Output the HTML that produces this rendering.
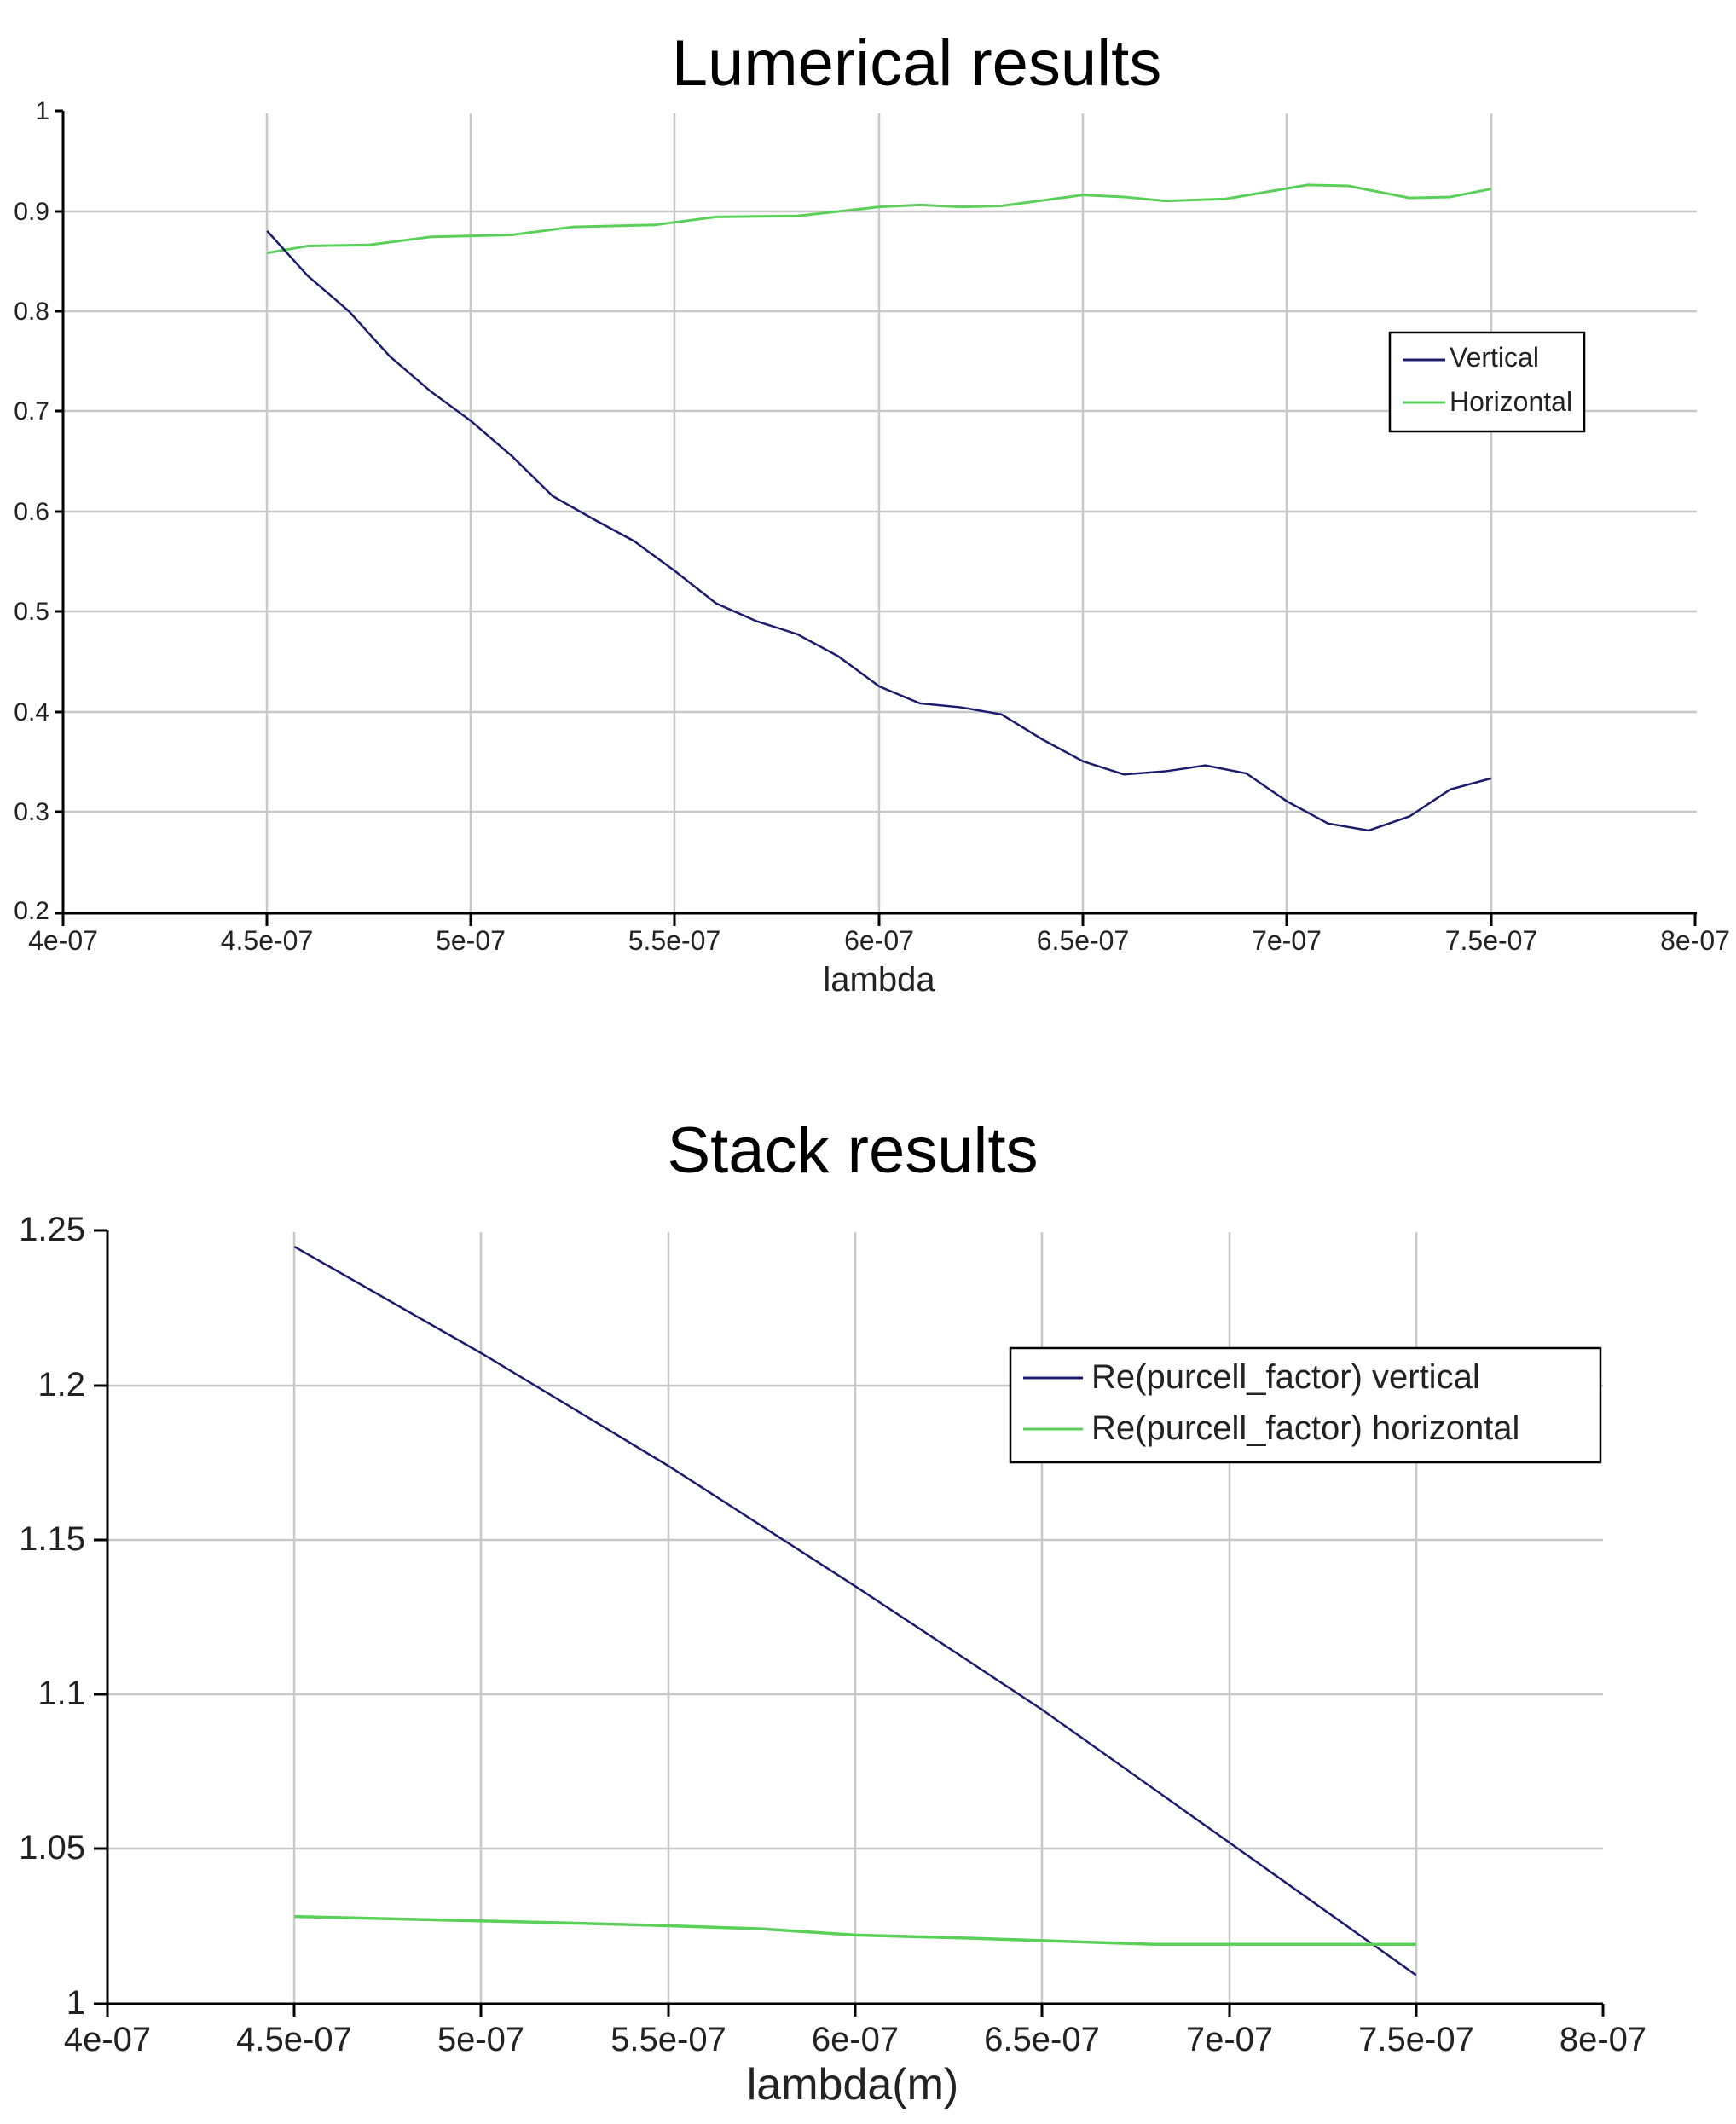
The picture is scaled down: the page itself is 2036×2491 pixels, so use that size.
<!DOCTYPE html>
<html><head><meta charset="utf-8"><style>
html,body{margin:0;padding:0;background:#fff;}
svg{display:block;}
text{font-family:"Liberation Sans",sans-serif;fill:#222;}
</style></head><body>
<svg width="2036" height="2491" viewBox="0 0 2036 2491" xmlns="http://www.w3.org/2000/svg">
<rect width="2036" height="2491" fill="#fff"/>
<!-- TOP CHART -->
<text x="1075" y="100" font-size="76" text-anchor="middle" style="fill:#000">Lumerical results</text>
<g stroke="#c8c8c8" stroke-width="2.5">
<line x1="313" y1="133" x2="313" y2="1070"/><line x1="552" y1="133" x2="552" y2="1070"/><line x1="791" y1="133" x2="791" y2="1070"/><line x1="1031" y1="133" x2="1031" y2="1070"/><line x1="1270" y1="133" x2="1270" y2="1070"/><line x1="1509" y1="133" x2="1509" y2="1070"/><line x1="1749" y1="133" x2="1749" y2="1070"/>
<line x1="74" y1="248" x2="1990" y2="248"/><line x1="74" y1="365" x2="1990" y2="365"/><line x1="74" y1="482" x2="1990" y2="482"/><line x1="74" y1="600" x2="1990" y2="600"/><line x1="74" y1="717" x2="1990" y2="717"/><line x1="74" y1="835" x2="1990" y2="835"/><line x1="74" y1="952" x2="1990" y2="952"/>
</g>
<g stroke="#000" stroke-width="3">
<line x1="74" y1="130" x2="74" y2="1071"/><line x1="74" y1="1071" x2="1990" y2="1071"/>
<line x1="64" y1="130" x2="74" y2="130"/><line x1="64" y1="248" x2="74" y2="248"/><line x1="64" y1="365" x2="74" y2="365"/><line x1="64" y1="482" x2="74" y2="482"/><line x1="64" y1="600" x2="74" y2="600"/><line x1="64" y1="717" x2="74" y2="717"/><line x1="64" y1="835" x2="74" y2="835"/><line x1="64" y1="952" x2="74" y2="952"/><line x1="64" y1="1071" x2="74" y2="1071"/>
<line x1="74" y1="1071" x2="74" y2="1086"/><line x1="313" y1="1071" x2="313" y2="1086"/><line x1="552" y1="1071" x2="552" y2="1086"/><line x1="791" y1="1071" x2="791" y2="1086"/><line x1="1031" y1="1071" x2="1031" y2="1086"/><line x1="1270" y1="1071" x2="1270" y2="1086"/><line x1="1509" y1="1071" x2="1509" y2="1086"/><line x1="1749" y1="1071" x2="1749" y2="1086"/><line x1="1988" y1="1071" x2="1988" y2="1086"/>
</g>
<g font-size="30" text-anchor="end">
<text x="58" y="140">1</text><text x="58" y="258">0.9</text><text x="58" y="375">0.8</text><text x="58" y="492">0.7</text><text x="58" y="610">0.6</text><text x="58" y="727">0.5</text><text x="58" y="845">0.4</text><text x="58" y="962">0.3</text><text x="58" y="1078">0.2</text>
</g>
<g font-size="32" text-anchor="middle">
<text x="74" y="1114">4e-07</text><text x="313" y="1114">4.5e-07</text><text x="552" y="1114">5e-07</text><text x="791" y="1114">5.5e-07</text><text x="1031" y="1114">6e-07</text><text x="1270" y="1114">6.5e-07</text><text x="1509" y="1114">7e-07</text><text x="1749" y="1114">7.5e-07</text><text x="1988" y="1114">8e-07</text>
</g>
<text x="1031" y="1162" font-size="40" text-anchor="middle">lambda</text>
<g transform="translate(-1840,1303.75) scale(478.5,-1173.75)" fill="none">
<polyline vector-effect="non-scaling-stroke" stroke="#5ad05a" stroke-width="3" points="4.5,0.858 4.6,0.865 4.75,0.866 4.9,0.874 5.1,0.876 5.25,0.884 5.45,0.886 5.6,0.894 5.8,0.895 6,0.904 6.1,0.906 6.2,0.904 6.3,0.905 6.5,0.916 6.6,0.914 6.7,0.91 6.85,0.912 7.05,0.926 7.15,0.925 7.3,0.913 7.4,0.914 7.5,0.922"/>
<polyline vector-effect="non-scaling-stroke" stroke="#1c1c6e" stroke-width="2.5" points="4.5,0.88 4.6,0.835 4.7,0.8 4.8,0.755 4.9,0.72 5,0.69 5.1,0.655 5.2,0.615 5.3,0.592 5.4,0.57 5.5,0.54 5.6,0.508 5.7,0.49 5.8,0.477 5.9,0.455 6,0.425 6.1,0.408 6.2,0.404 6.3,0.397 6.4,0.372 6.5,0.35 6.6,0.337 6.7,0.340 6.8,0.346 6.9,0.338 7,0.31 7.1,0.288 7.2,0.281 7.3,0.295 7.4,0.322 7.5,0.333"/>
</g>
<rect x="1630" y="390" width="228" height="116" fill="#fff" stroke="#000" stroke-width="2.5"/>
<line x1="1645" y1="422" x2="1695" y2="422" stroke="#1c1c6e" stroke-width="3"/>
<line x1="1645" y1="472" x2="1695" y2="472" stroke="#5ad05a" stroke-width="3"/>
<text x="1700" y="430" font-size="32">Vertical</text>
<text x="1700" y="482" font-size="32">Horizontal</text>

<!-- BOTTOM CHART -->
<text x="1000" y="1375" font-size="76" text-anchor="middle" style="fill:#000">Stack results</text>
<g stroke="#c8c8c8" stroke-width="2.5">
<line x1="345" y1="1445" x2="345" y2="2349"/><line x1="564" y1="1445" x2="564" y2="2349"/><line x1="784" y1="1445" x2="784" y2="2349"/><line x1="1003" y1="1445" x2="1003" y2="2349"/><line x1="1222" y1="1445" x2="1222" y2="2349"/><line x1="1442" y1="1445" x2="1442" y2="2349"/><line x1="1661" y1="1445" x2="1661" y2="2349"/>
<line x1="126" y1="1625" x2="1880" y2="1625"/><line x1="126" y1="1806" x2="1880" y2="1806"/><line x1="126" y1="1987" x2="1880" y2="1987"/><line x1="126" y1="2168" x2="1880" y2="2168"/>
</g>
<g stroke="#000" stroke-width="3">
<line x1="126" y1="1443" x2="126" y2="2350"/><line x1="126" y1="2350" x2="1880" y2="2350"/>
<line x1="110" y1="1443" x2="126" y2="1443"/><line x1="110" y1="1625" x2="126" y2="1625"/><line x1="110" y1="1806" x2="126" y2="1806"/><line x1="110" y1="1987" x2="126" y2="1987"/><line x1="110" y1="2168" x2="126" y2="2168"/><line x1="110" y1="2350" x2="126" y2="2350"/>
<line x1="126" y1="2350" x2="126" y2="2365"/><line x1="345" y1="2350" x2="345" y2="2365"/><line x1="564" y1="2350" x2="564" y2="2365"/><line x1="784" y1="2350" x2="784" y2="2365"/><line x1="1003" y1="2350" x2="1003" y2="2365"/><line x1="1222" y1="2350" x2="1222" y2="2365"/><line x1="1442" y1="2350" x2="1442" y2="2365"/><line x1="1661" y1="2350" x2="1661" y2="2365"/><line x1="1880" y1="2350" x2="1880" y2="2365"/>
</g>
<g font-size="40" text-anchor="end">
<text x="100" y="1455">1.25</text><text x="100" y="1637">1.2</text><text x="100" y="1818">1.15</text><text x="100" y="1999">1.1</text><text x="100" y="2180">1.05</text><text x="100" y="2362">1</text>
</g>
<g font-size="40" text-anchor="middle">
<text x="126" y="2405">4e-07</text><text x="345" y="2405">4.5e-07</text><text x="564" y="2405">5e-07</text><text x="784" y="2405">5.5e-07</text><text x="1003" y="2405">6e-07</text><text x="1222" y="2405">6.5e-07</text><text x="1442" y="2405">7e-07</text><text x="1661" y="2405">7.5e-07</text><text x="1880" y="2405">8e-07</text>
</g>
<text x="1000" y="2462" font-size="52" text-anchor="middle">lambda(m)</text>
<g transform="translate(-1628,5969) scale(438.5,-3620)" fill="none">
<polyline vector-effect="non-scaling-stroke" stroke="#1c1c6e" stroke-width="2.5" points="4.5,1.245 5,1.2105 5.5,1.174 6,1.135 6.5,1.095 7,1.052 7.5,1.009"/>
<polyline vector-effect="non-scaling-stroke" stroke="#5ad05a" stroke-width="3.5" points="4.5,1.028 4.85,1.027 5.2,1.026 5.5,1.025 5.75,1.024 6,1.022 6.3,1.021 6.55,1.020 6.8,1.019 7.5,1.019"/>
</g>
<rect x="1185" y="1581" width="692" height="134" fill="#fff" stroke="#000" stroke-width="2.5"/>
<line x1="1200" y1="1616" x2="1270" y2="1616" stroke="#1c1c6e" stroke-width="3"/>
<line x1="1200" y1="1676" x2="1270" y2="1676" stroke="#5ad05a" stroke-width="3"/>
<text x="1280" y="1628" font-size="40">Re(purcell_factor) vertical</text>
<text x="1280" y="1688" font-size="40">Re(purcell_factor) horizontal</text>
</svg>
</body></html>
